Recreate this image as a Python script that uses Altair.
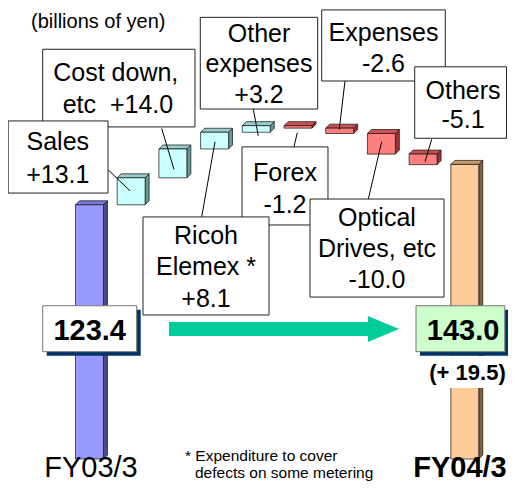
import altair as alt
import pandas as pd

# ---------------- data ----------------
categories = ["FY03/3", "Sales", "Cost down, etc", "Ricoh Elemex", "Other expenses",
              "Forex", "Expenses", "Optical Drives, etc", "Others", "FY04/3"]
changes = [123.4, 13.1, 14.0, 8.1, 3.2, -1.2, -2.6, -10.0, -5.1, 143.0]
kinds = ["start", "up", "up", "up", "up", "down", "down", "down", "down", "end"]

# annotation boxes (data units: category index, billions of yen), in drawing order
box_names = ["Cost", "Sales", "OtherExp", "Expenses", "Others", "Optical", "Forex", "Ricoh"]
box_x = [-1.122, -1.95, 2.657, 5.568, 7.799, 5.288, 3.657, 1.283]
box_x2 = [2.530, 0.444, 5.472, 8.532, 10.0, 8.501, 5.719, 4.305]
box_y = [198.9, 164.1, 214.4, 218.0, 190.4, 126.2, 151.5, 117.5]
box_y2 = [161.2, 129.1, 169.9, 183.5, 155.7, 78.6, 113.6, 69.9]

label_text = ["Sales", "+13.1", "Cost down,", "etc\u00a0 +14.0", "Other", "expenses", "+3.2",
              "Expenses", "-2.6", "Others", "-5.1", "Forex", "-1.2",
              "Ricoh", "Elemex *", "+8.1", "Optical", "Drives, etc", "-10.0"]
label_x = [-0.76, -0.76, 0.63, 0.683, 4.065, 4.065, 4.065, 7.05, 7.05, 8.957, 8.957,
           4.688, 4.688, 2.794, 2.794, 2.794, 6.894, 6.894, 6.894]
label_y = [150.0, 134.1, 183.5, 168.0, 202.6, 187.9, 172.8, 202.9, 187.9, 174.8, 160.7,
           135.1, 119.6, 104.4, 89.3, 73.9, 113.1, 97.9, 82.9]

# leader lines from boxes to the steps
lead_x = [0.451, 1.731, 2.691, 3.928, 4.904, 6.127, 6.686, 8.206]
lead_y = [140.3, 160.5, 117.6, 169.9, 151.6, 183.5, 126.1, 155.2]
lead_x2 = [0.971, 2.026, 3.010, 4.048, 4.983, 5.990, 7.007, 8.046]
lead_y2 = [130.2, 140.6, 154.0, 156.9, 158.4, 160.0, 154.0, 144.3]

# totals boxes
total_text = ["123.4", "143.0"]
total_x = [-1.122, 7.830]
total_x2 = [1.132, 9.96]
total_y = [74.4, 74.4]
total_y2 = [52.1, 52.1]
total_fill = ["#FFFFFF", "#CCFFCC"]
total_tx = [0.005, 8.96]
total_ty = [57.8, 57.8]

front_colors = {"start": "#9999FF", "up": "#CCFFFF", "down": "#FF7F7F", "end": "#FFCC99"}
top_colors = {"start": "#7777DD", "up": "#99CCCC", "down": "#CC5050", "end": "#CC9966"}
side_colors = {"start": "#4B4B8C", "up": "#669999", "down": "#993333", "end": "#806040"}

HALF = 0.335          # half bar width in category units
DX = 4 / 41.7         # 3-D depth, x (category units)
DY = 4 / 2.06         # 3-D depth, y (value units)

# ---------------- build tables ----------------
bars, tops, sides = [], [], []
level = 0.0
for i, (c, v, k) in enumerate(zip(categories, changes, kinds)):
    if k in ("start", "end"):
        lo, hi = 0.0, v
        level = v
    else:
        a = level
        level = level + v
        lo, hi = min(a, level), max(a, level)
    x0, x1 = i - HALF, i + HALF
    bars.append(dict(id=c, x0=x0, x1=x1, lo=lo, hi=hi, fill=front_colors[k]))
    for (xx, yy, yy2) in [(x0, hi, hi), (x0 + DX, hi + DY, hi), (x1, hi + DY, hi), (x1 + DX, hi + DY, hi + DY)]:
        tops.append(dict(id=c, x=xx, y=yy, y2=yy2, fill=top_colors[k]))
    for (xx, yy, yy2) in [(x1, hi, lo), (x1 + DX, hi + DY, lo + DY)]:
        sides.append(dict(id=c, x=xx, y=yy, y2=yy2, fill=side_colors[k]))

bars = pd.DataFrame(bars)
tops = pd.DataFrame(tops)
sides = pd.DataFrame(sides)
boxes = pd.DataFrame(dict(name=box_names, x=box_x, x2=box_x2, y=box_y, y2=box_y2))
labels = pd.DataFrame(dict(t=label_text, x=label_x, y=label_y))
leads = pd.DataFrame(dict(x=lead_x, y=lead_y, x2=lead_x2, y2=lead_y2))
totals = pd.DataFrame(dict(t=total_text, x=total_x, x2=total_x2, y=total_y, y2=total_y2,
                           fill=total_fill, tx=total_tx, ty=total_ty))

xs = alt.Scale(domain=[-1.954, 10.036], nice=False, zero=False)
ys = alt.Scale(domain=[-11.17, 218.93], nice=False, zero=False)
FONT = "Liberation Sans"


def X(f):
    return alt.X(f, type="quantitative", scale=xs, axis=None)


def Y(f):
    return alt.Y(f, type="quantitative", scale=ys, axis=None)


side_layer = alt.Chart(sides).mark_area(orient="vertical", stroke="#111", strokeWidth=0.7).encode(
    x=X("x"), y=alt.Y("y:Q", scale=ys, axis=None, stack=None), y2="y2:Q",
    fill=alt.Fill("fill:N", scale=None), detail="id:N")
top_layer = alt.Chart(tops).mark_area(orient="vertical", stroke="#111", strokeWidth=0.7).encode(
    x=X("x"), y=alt.Y("y:Q", scale=ys, axis=None, stack=None), y2="y2:Q",
    fill=alt.Fill("fill:N", scale=None), detail="id:N")
front_layer = alt.Chart(bars).mark_rect(stroke="#111", strokeWidth=0.7).encode(
    x=X("x0"), x2="x1:Q", y=Y("lo"), y2="hi:Q", fill=alt.Fill("fill:N", scale=None))

lead_layer = alt.Chart(leads).mark_rule(color="#000", strokeWidth=1).encode(
    x=X("x"), y=Y("y"), x2="x2:Q", y2="y2:Q")
box_layer = alt.Chart(boxes).mark_rect(fill="white", stroke="#222", strokeWidth=1).encode(
    x=X("x"), x2="x2:Q", y=Y("y"), y2="y2:Q", order=alt.Order("name:N"))
label_layer = alt.Chart(labels).mark_text(font=FONT, fontSize=25, baseline="alphabetic",
                                          align="center", color="#000").encode(
    x=X("x"), y=Y("y"), text="t:N")

# arrow
arrow_body = pd.DataFrame(dict(x=[1.906], x2=[6.679], y=[66.5], y2=[59.7]))
arrow_head = pd.DataFrame(dict(x=[6.679, 7.422], y=[69.4, 63.1], y2=[56.8, 63.1]))
arrow_layer = alt.Chart(arrow_body).mark_rect(fill="#00CC99").encode(
    x=X("x"), x2="x2:Q", y=Y("y"), y2="y2:Q")
head_layer = alt.Chart(arrow_head).mark_area(orient="vertical", fill="#00CC99").encode(
    x=X("x"), y=alt.Y("y:Q", scale=ys, axis=None, stack=None), y2="y2:Q")

shadow_layer = alt.Chart(totals).mark_rect(fill="#003366", xOffset=4, x2Offset=4, yOffset=4, y2Offset=4).encode(
    x=X("x"), x2="x2:Q", y=Y("y"), y2="y2:Q")
total_box = alt.Chart(totals).mark_rect(stroke="#777", strokeWidth=1).encode(
    x=X("x"), x2="x2:Q", y=Y("y"), y2="y2:Q", fill=alt.Fill("fill:N", scale=None))
total_txt = alt.Chart(totals).mark_text(font=FONT, fontSize=29, fontWeight="bold",
                                        baseline="alphabetic", align="center", color="#000").encode(
    x=X("tx"), y=Y("ty"), text="t:N")

delta = pd.DataFrame(dict(t=["(+ 19.5)"], x=[9.065], y=[38.3], px=[8.046], px2=[10.0], py=[50.0], py2=[34.5]))
delta_bg = alt.Chart(delta).mark_rect(fill="white").encode(x=X("px"), x2="px2:Q", y=Y("py"), y2="py2:Q")
delta_txt = alt.Chart(delta).mark_text(font=FONT, fontSize=22, fontWeight="bold", baseline="alphabetic",
                                       align="center", color="#000").encode(x=X("x"), y=Y("y"), text="t:N")

cat_lab = pd.DataFrame(dict(t=["FY03/3", "FY04/3"], x=[0.036, 8.885], y=[-8.74, -8.74]))
cat1 = alt.Chart(cat_lab.iloc[[0]]).mark_text(font=FONT, fontSize=29, baseline="alphabetic",
                                               align="center", color="#000").encode(x=X("x"), y=Y("y"), text="t:N")
cat2 = alt.Chart(cat_lab.iloc[[1]]).mark_text(font=FONT, fontSize=29, fontWeight="bold", baseline="alphabetic",
                                               align="center", color="#000").encode(x=X("x"), y=Y("y"), text="t:N")

unit = pd.DataFrame(dict(t=["(billions of yen)"], x=[-1.403], y=[209.2]))
unit_txt = alt.Chart(unit).mark_text(font=FONT, fontSize=20, baseline="alphabetic", align="left",
                                     color="#000").encode(x=X("x"), y=Y("y"), text="t:N")
notes = pd.DataFrame(dict(t=["* Expenditure to cover", "defects on some metering"],
                          x=[2.29, 2.53], y=[-1.2, -9.2]))
note_txt = alt.Chart(notes).mark_text(font=FONT, fontSize=15.5, baseline="alphabetic", align="left",
                                      color="#000").encode(x=X("x"), y=Y("y"), text="t:N")

chart = alt.layer(
    side_layer, top_layer, front_layer,
    lead_layer, box_layer, label_layer,
    arrow_layer, head_layer,
    delta_bg, shadow_layer, total_box, total_txt, delta_txt,
    cat1, cat2, unit_txt, note_txt,
).properties(
    width=500, height=474, autosize=alt.AutoSizeParams(type="none"), padding=0,
    background="white",
).configure_view(stroke=None)

chart.save("out.html", embed_options={"renderer": "svg", "actions": False})
